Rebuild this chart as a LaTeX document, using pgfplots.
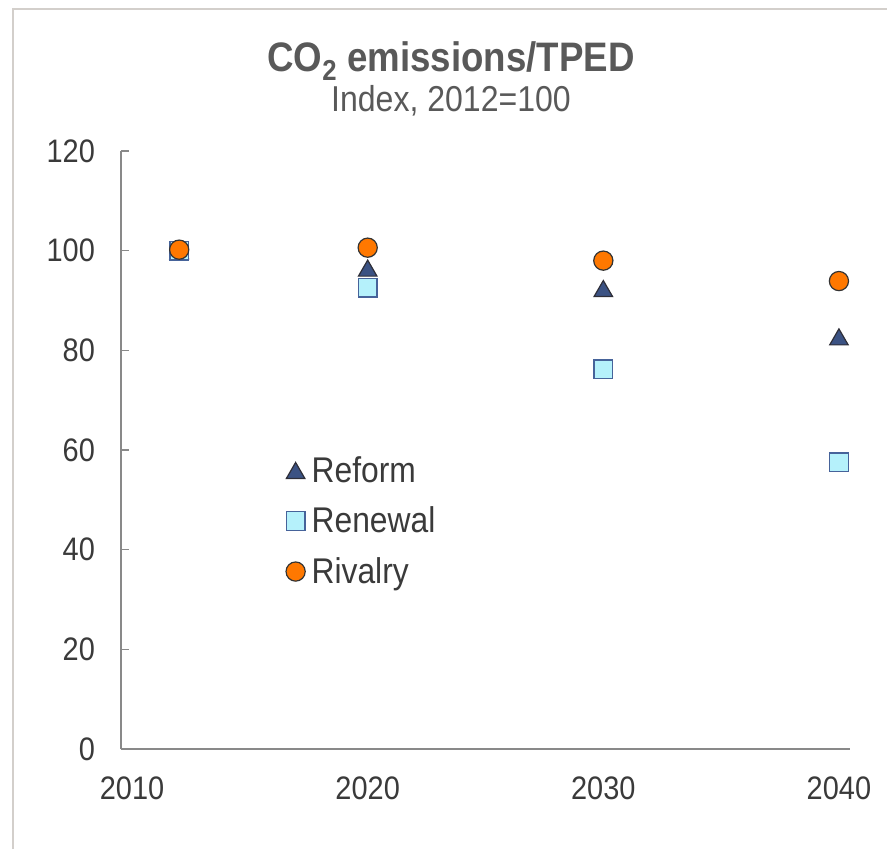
\documentclass[border=0pt]{standalone}
\usepackage{fontspec}
\setmainfont{Liberation Sans}[FakeStretch=0.89]
\usepackage{pgfplots}
\pgfplotsset{compat=1.18}
\definecolor{navy}{HTML}{3B5283}
\definecolor{navyedge}{HTML}{2E2E38}
\definecolor{cyanfill}{HTML}{B5F1FB}
\definecolor{cyanedge}{HTML}{46639A}
\definecolor{orangefill}{HTML}{FF7800}
\definecolor{darkedge}{HTML}{333333}
\definecolor{axisgray}{HTML}{898989}
\definecolor{framegray}{HTML}{D3CFCB}
\definecolor{titlegray}{HTML}{595959}
\definecolor{labelgray}{HTML}{3A3A3A}
\begin{document}
\begin{tikzpicture}
\path[use as bounding box] (0pt,0pt) rectangle (665.25pt,636.75pt);
\draw[framegray,line width=1.5pt] (9.75pt,0pt) -- (9.75pt,630pt) -- (665.25pt,630pt);
\node[anchor=base,text=titlegray,font=\fontsize{30.9pt}{36pt}\selectfont\bfseries,inner sep=0pt] at (338.25pt,583pt) {CO\textsubscript{2} emissions/TPED};
\node[anchor=base,text=titlegray,font=\fontsize{27pt}{32pt}\selectfont,inner sep=0pt] at (338.25pt,552.75pt) {Index, 2012=100};
\begin{axis}[
  at={(90.75pt,75pt)}, anchor=south west,
  scale only axis, width=546.75pt, height=448.5pt,
  xmin=2009.53, xmax=2040.47, ymin=0, ymax=120,
  axis lines*=left,
  axis line style={axisgray,line width=1.1pt},
  xtick={2010,2020,2030,2040},
  ytick={0,20,40,60,80,100,120},
  x tick style={draw=none},
  y tick style={axisgray,line width=1.1pt},
  tick align=inside, major tick length=6pt,
  xticklabel style={yshift=-17pt},
  yticklabel style={xshift=-16pt},
  ticklabel style={text=labelgray,font=\fontsize{24.4pt}{29pt}\selectfont},
  /pgf/number format/assume math mode=true,
  /pgf/number format/1000 sep={},
  legend style={at={(0.226,0.494)}, anchor=north west, draw=none, fill=none,
    font=\fontsize{26.8pt}{32pt}\selectfont, text=labelgray, row sep=13pt,
    inner sep=0pt},
  legend cell align=left,
  legend image code/.code={\draw[#1] plot coordinates {(0cm,0cm)}; \path[draw=none,fill=none] (0pt,0pt) rectangle (10pt,0.1pt);},
  clip=false,
]
\addplot[only marks, mark=triangle*, mark size=8pt, mark options={fill=navy, draw=navyedge, line width=0.9pt, yshift=-2pt}]
  coordinates {(2012,100) (2020,96.5) (2030,92.4) (2040,82.7)};
\addlegendentry{Reform}
\addplot[only marks, mark=square*, mark size=7pt, mark options={fill=cyanfill, draw=cyanedge, line width=1pt}]
  coordinates {(2012,100) (2020,92.6) (2030,76.2) (2040,57.5)};
\addlegendentry{Renewal}
\addplot[only marks, mark=*, mark size=7.2pt, mark options={fill=orangefill, draw=darkedge, line width=0.9pt}]
  coordinates {(2012,100.2) (2020,100.6) (2030,98.0) (2040,93.9)};
\addlegendentry{Rivalry}
\end{axis}
\end{tikzpicture}
\end{document}
